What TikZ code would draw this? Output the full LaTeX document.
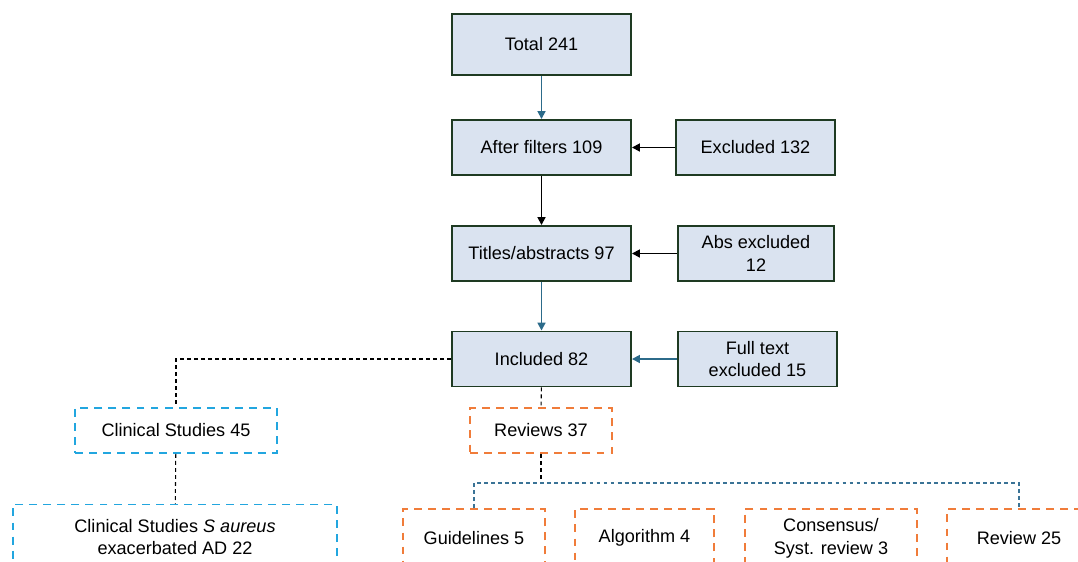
\documentclass[tikz,border=0pt]{standalone}
\usepackage{fontspec}
\setmainfont{Liberation Sans}
\usetikzlibrary{arrows.meta}
\definecolor{boxfill}{HTML}{DAE3F0}
\definecolor{boxline}{HTML}{1E3A22}
\definecolor{arrowblue}{HTML}{2C6B8A}
\definecolor{studyblue}{HTML}{22A6DF}
\definecolor{revorange}{HTML}{F07C3A}
\definecolor{splitblue}{HTML}{3A7396}

\begin{document}
\begin{tikzpicture}[
      x=0.02cm, y=-0.02cm, >={Triangle[length=4.5pt, width=4.5pt]},
      every node/.style={font=\fontsize{10.3}{13}\selectfont},
      flowbox/.style={draw=boxline, fill=boxfill, line width=1.1pt,
        minimum height=1.1cm, align=center, inner sep=2pt},
      studybox/.style={draw=studyblue, line width=1.1pt, dash pattern=on 4.5pt off 3.5pt,
        align=center, inner sep=2pt},
      reviewbox/.style={draw=revorange, line width=1.1pt, dash pattern=on 4.5pt off 3.5pt,
        align=center, inner sep=2pt, minimum height=1.04cm},
      link/.style={line width=0.6pt, dash pattern=on 2.2pt off 1.8pt}]

      \useasboundingbox (0,0) rectangle (1078,561);
      \clip (0,0) rectangle (1078,561);

      % screening boxes
      \node[flowbox, minimum width=3.58cm, minimum height=1.22cm] (total) at (541.5,44.5) {Total 241};
      \node[flowbox, minimum width=3.58cm] (filters) at (541.5,147.5) {After filters 109};
      \node[flowbox, minimum width=3.18cm] (excl) at (755.5,147.5) {Excluded 132};
      \node[flowbox, minimum width=3.58cm] (titles) at (541.5,253.5) {Titles/abstracts 97};
      \node[flowbox, minimum width=3.12cm] (absexcl) at (756,253.5) {Abs excluded\\12};
      \node[flowbox, minimum width=3.58cm] (incl) at (541.5,359) {Included 82};
      \node[flowbox, minimum width=3.18cm] (fullexcl) at (757.5,359) {Full text\\excluded 15};

      % categories
      \node[studybox, minimum width=4.04cm, minimum height=0.9cm] (clin) at (176,430.5) {Clinical Studies 45};
      \node[reviewbox, minimum width=2.84cm, minimum height=0.9cm] (rev) at (541,430.5) {Reviews 37};
      \node[studybox, minimum width=6.48cm, minimum height=1.3cm] (aureus) at (175,537)
        {Clinical Studies \textit{S aureus}\\exacerbated AD 22};
      \node[reviewbox, minimum width=2.84cm, minimum height=1.16cm] (guide) at (474,538) {Guidelines 5};
      \node[reviewbox, minimum width=2.78cm, minimum height=1.16cm] (algo) at (644.5,538) {Algorithm 4};
      \node[reviewbox, minimum width=3.44cm, minimum height=1.16cm] (cons) at (831,538) {Consensus/\\Syst. review 3};
      \node[reviewbox, minimum width=2.88cm, minimum height=1.16cm] (review) at (1019,538) {Review 25};

      % arrows
      \draw[->, arrowblue, line width=1pt] (total) -- (filters);
      \draw[->, line width=1pt] (excl) -- (filters);
      \draw[->, line width=1pt] (filters) -- (titles);
      \draw[->, line width=1pt] (absexcl) -- (titles);
      \draw[->, arrowblue, line width=1pt] (titles) -- (incl);
      \draw[->, arrowblue, line width=1pt] (fullexcl) -- (incl);

      % dashed links
      \coordinate (split) at (541,483);
      \draw[link] (incl.west) -| (clin.north);
      \draw[link] (incl) -- (rev);
      \draw[link] (clin) -- (aureus);
      \draw[link] (rev) -- (split);
      \draw[link, splitblue] (guide.north) |- (split) -| (review.north);
    \end{tikzpicture}
\end{document}
